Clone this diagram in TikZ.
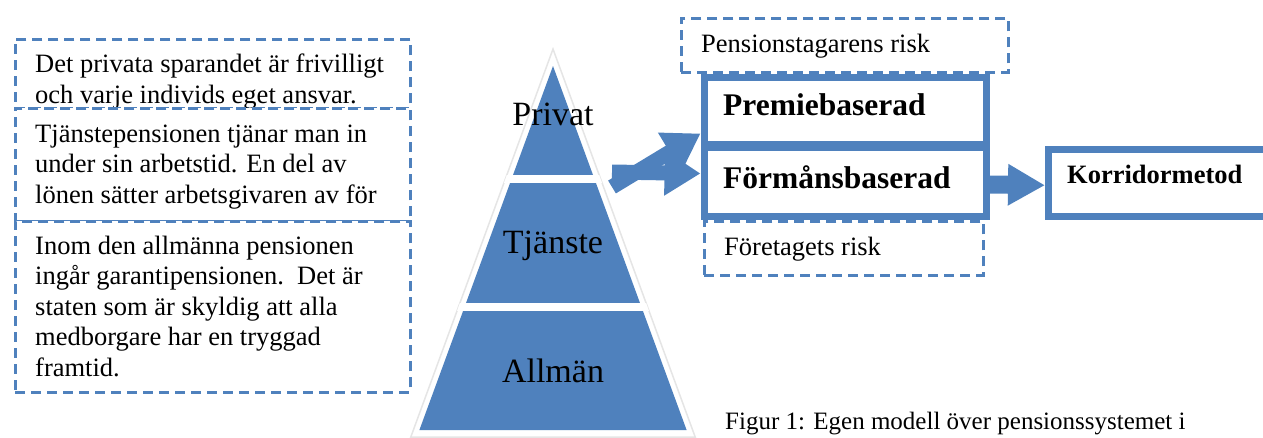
\documentclass[tikz,border=0pt]{standalone}
\usepackage{fontspec}
\setmainfont{Liberation Serif}
\usetikzlibrary{arrows.meta}
\definecolor{ofblue}{RGB}{79,129,189}
\begin{document}
\begin{tikzpicture}[x=1pt,y=-1pt,
  dbox/.style={draw=ofblue, line width=2.5pt, dash pattern=on 10pt off 6pt, fill=white, inner sep=0pt, anchor=north west},
  txt/.style={anchor=base west, align=left, inner sep=0pt, font=\fontsize{26.5}{30.5}\selectfont},
  sbox/.style={draw=ofblue, line width=7pt, fill=white, inner sep=0pt, anchor=north west},
  btxt/.style={anchor=base west, inner sep=0pt, font=\bfseries\fontsize{31.5}{36}\selectfont},
  plab/.style={anchor=base, inner sep=0pt, font=\fontsize{34}{40}\selectfont},
  fat/.style={draw=ofblue, line width=15pt, -{Triangle[length=36pt,width=43pt]}},
]
\useasboundingbox (0,0) rectangle (1263,437);

% ---------- left dashed text boxes (multi-line texts placed by their last baseline) ----------
\node[dbox, minimum width=395pt, minimum height=69pt] (b1) at (14,38) {};
\node[txt] (t1) at (35,103) {Det privata sparandet är frivilligt\\och varje individs eget ansvar.};
\node[dbox, minimum width=395pt, minimum height=113pt] (b2) at (14,107) {};
\node[txt] (t2) at (35,203) {Tjänstepensionen tjänar man in\\under sin arbetstid. En del av\\lönen sätter arbetsgivaren av för};
\node[dbox, minimum width=395pt, minimum height=171pt] (b3) at (14,220) {};
\node[txt] (t3) at (35,376) {Inom den allmänna pensionen\\ingår garantipensionen.\ \ Det är\\staten som är skyldig att alla\\medborgare har en tryggad\\framtid.};

% ---------- pyramid ----------
\draw[black!10, line width=1.5pt, fill=white] (553,49) -- (410.8,437) -- (695.2,437) -- cycle;
\fill[ofblue] (553,66) -- (419.4,430) -- (686.6,430) -- cycle;
\begin{scope}
  \clip (553,49) -- (410.8,437) -- (695.2,437) -- cycle;
  \fill[white] (400,175) rectangle (710,183);
  \fill[white] (400,303) rectangle (710,311);
\end{scope}
\node[plab] (privat) at (553,125) {Privat};
\node[plab] (tjanste) at (553,253) {Tjänste};
\node[plab] (allman) at (553,382) {Allmän};

% ---------- right side ----------
\node[dbox, minimum width=327pt, minimum height=54pt] (prisk) at (680,17) {};
\node[txt] (ptxt) at (701,52) {Pensionstagarens risk};
\node[dbox, minimum width=279pt, minimum height=54pt] (frisk) at (703,220) {};
\node[txt] (ftxt) at (724,255) {Företagets risk};

\node[sbox, minimum width=282.5pt, minimum height=67pt] (prem) at (700.5,73.5) {};
\node[btxt] (premtxt) at (723,115) {Premiebaserad};
\node[sbox, minimum width=282.5pt, minimum height=69pt] (form) at (700.5,144) {};
\node[btxt] (formtxt) at (723,188) {Förmånsbaserad};

\node[sbox, minimum width=260pt, minimum height=67.5pt] (korr) at (1045,145.5) {};
\node[anchor=base west, inner sep=0pt, font=\bfseries\fontsize{26.5}{32}\selectfont] (korrtxt) at (1067,183) {Korridormetod};

% ---------- arrows ----------
\coordinate (s1) at (612,187);
\coordinate (s2) at (612,172);
\draw[fat] (s2) -- ([yshift=8.5pt]form.west);
\draw[fat] (s1) -- ([yshift=-23pt]prem.west);
\draw[draw=ofblue, line width=18pt, -{Triangle[length=37pt,width=39pt]}] ([yshift=-2.5pt]form.east) -- ([yshift=-2.5pt]korr.west);

% ---------- caption ----------
\node[anchor=base west, inner sep=0pt, font=\fontsize{25}{30}\selectfont] (cap) at (725,429) {Figur 1: Egen modell över pensionssystemet i};
\end{tikzpicture}
\end{document}
